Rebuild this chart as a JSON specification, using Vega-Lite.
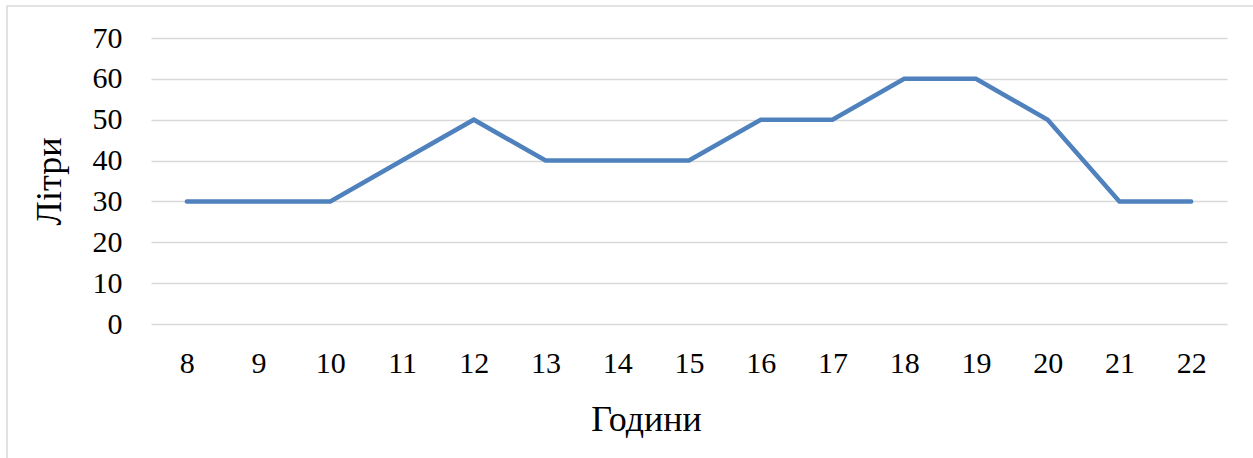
{
  "$schema": "https://vega.github.io/schema/vega-lite/v6.json",
  "autosize": "none",
  "padding": {"left": 7, "top": 6, "right": 0, "bottom": 0},
  "width": 1248,
  "height": 454,
  "background": "white",
  "config": {
    "view": {"stroke": "#d9d9d9", "strokeWidth": 1.5},
    "font": "Liberation Serif",
    "axis": {
      "labelFont": "Liberation Serif",
      "titleFont": "Liberation Serif",
      "labelColor": "#000000",
      "titleColor": "#000000",
      "titleFontWeight": "normal",
      "labelFontSize": 30,
      "titleFontSize": 36
    }
  },
  "data": {
    "values": [
      {"hour": 8, "litres": 30},
      {"hour": 9, "litres": 30},
      {"hour": 10, "litres": 30},
      {"hour": 11, "litres": 40},
      {"hour": 12, "litres": 50},
      {"hour": 13, "litres": 40},
      {"hour": 14, "litres": 40},
      {"hour": 15, "litres": 40},
      {"hour": 16, "litres": 50},
      {"hour": 17, "litres": 50},
      {"hour": 18, "litres": 60},
      {"hour": 19, "litres": 60},
      {"hour": 20, "litres": 50},
      {"hour": 21, "litres": 30},
      {"hour": 22, "litres": 30}
    ]
  },
  "mark": {"type": "line", "color": "#4f81bd", "strokeWidth": 4.5, "strokeCap": "round", "strokeJoin": "miter"},
  "encoding": {
    "x": {
      "field": "hour",
      "type": "ordinal",
      "scale": {"type": "point", "padding": 0.5, "range": [144, 1220]},
      "axis": {
        "title": "Години",
        "labelAngle": 0,
        "domain": false,
        "ticks": false,
        "grid": false,
        "offset": -136,
        "labelBaseline": "alphabetic",
        "labelPadding": 48,
        "titleX": 639,
        "titleY": 106,
        "titleBaseline": "alphabetic",
        "titleAlign": "center"
      }
    },
    "y": {
      "field": "litres",
      "type": "quantitative",
      "scale": {"domain": [0, 70], "nice": false, "range": [318, 32]},
      "axis": {
        "title": "Літри",
        "values": [0, 10, 20, 30, 40, 50, 60, 70],
        "domain": false,
        "ticks": false,
        "grid": true,
        "gridColor": "#d9d9d9",
        "gridWidth": 1.5,
        "offset": -115,
        "labelPadding": 0,
        "labelAlign": "right",
        "labelBaseline": "middle",
        "titleAngle": -90,
        "titleX": -62,
        "titleBaseline": "alphabetic",
        "titleAlign": "center"
      }
    }
  }
}
